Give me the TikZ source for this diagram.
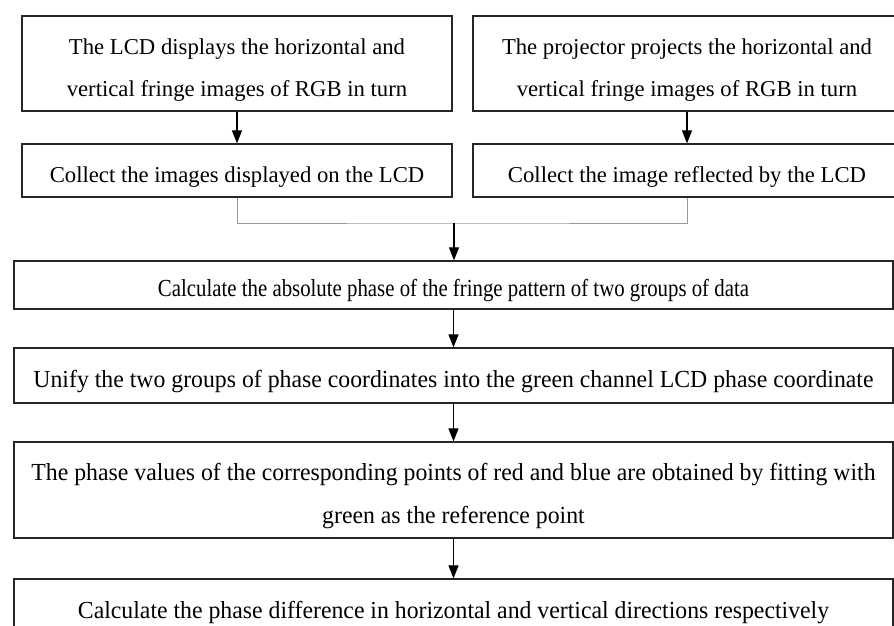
\documentclass[tikz,border=0pt]{standalone}
\usepackage{fontspec}
\setmainfont{Liberation Serif}
\usetikzlibrary{arrows.meta,positioning}
\newcommand\tp{\rule{0pt}{29pt}}
\newcommand\cond[2][0.97]{\scalebox{#1}[1]{#2}}
\tikzset{
  box/.style={draw=black!85, line width=1.2pt, inner sep=0pt, align=center,
    font=\fontsize{22.7}{42}\selectfont},
  wide/.style={box, minimum width=879pt, font=\fontsize{24.5}{43}\selectfont},
  flow/.style={draw=black, line width=1.1pt, -{Triangle[length=13pt,width=10pt]}},
  joint/.style={draw=black!40, line width=1pt}
}
\begin{document}
\begin{tikzpicture}[x=1pt,y=-1pt]
\useasboundingbox (0,0) rectangle (894,626);
\node[box, minimum width=430pt, minimum height=95pt] (b1) at (237,63.5)
  {\tp The LCD displays the horizontal and\\vertical fringe images of RGB in turn};
\node[box, minimum width=428pt, minimum height=95pt] (b2) at (687,63.5)
  {\tp The projector projects the horizontal and\\vertical fringe images of RGB in turn};
\node[box, minimum width=430pt, minimum height=53pt] (b3) at (237,170.5)
  {\tp Collect the images displayed on the LCD};
\node[box, minimum width=428pt, minimum height=53pt] (b4) at (687,170.5)
  {\tp Collect the image reflected by the LCD};
\node[wide, minimum height=48pt] (b5) at (453.5,285)
  {\tp\cond[0.85]{Calculate the absolute phase of the fringe pattern of two groups of data}};
\node[wide, minimum height=55pt] (b6) at (453.5,375.5)
  {\tp\cond{Unify the two groups of phase coordinates into the green channel LCD phase coordinate}};
\node[wide, minimum height=96pt] (b7) at (453.5,490)
  {\tp\cond{The phase values of the corresponding points of red and blue are obtained by fitting with}\\\cond{green as the reference point}};
\node[wide, minimum height=68pt] (b8) at (453.5,613)
  {\cond{Calculate the phase difference in horizontal and vertical directions respectively}};
\coordinate (j) at (454,223);
\draw[flow] (b1) -- (b3);
\draw[flow] (b2) -- (b4);
\draw[joint] (b3.south) |- (j) -| (b4.south);
\draw[flow] (j) -- (j |- b5.north);
\draw[flow] (b5) -- (b6);
\draw[flow] (b6) -- (b7);
\draw[flow] (b7) -- (b8);
\end{tikzpicture}
\end{document}
